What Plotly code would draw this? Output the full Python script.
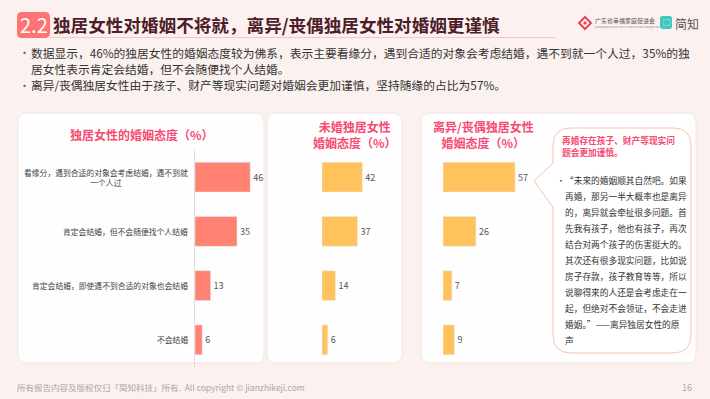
import plotly.graph_objects as go

W, H = 710, 399
FONT = "Noto Sans CJK SC"


def px(x):
    return x / W


def py(y):
    return 1 - y / H


# ---------------- data ----------------
categories = [
    "看缘分，遇到合适的对象会考虑结婚，遇不到就一个人过",
    "肯定会结婚，但不会随便找个人结婚",
    "肯定会结婚，即使遇不到合适的对象也会结婚",
    "不会结婚",
]
category_labels = [
    "看缘分，遇到合适的对象会考虑结婚，遇不到就<br>一个人过",
    "肯定会结婚，但不会随便找个人结婚",
    "肯定会结婚，即使遇不到合适的对象也会结婚",
    "不会结婚",
]
all_women = [46, 35, 13, 6]
unmarried_women = [42, 37, 14, 6]
divorced_women = [57, 26, 7, 9]

title_main = "独居女性对婚姻不将就，离异/丧偶独居女性对婚姻更谨慎"
panel_titles = [
    "独居女性的婚姻态度（%）",
    "未婚独居女性<br>婚姻态度（%）",
    "离异/丧偶独居女性<br>婚姻态度（%）",
]
bullet_lines = [
    "数据显示，46%的独居女性的婚姻态度较为佛系，表示主要看缘分，遇到合适的对象会考虑结婚，遇不到就一个人过，35%的独",
    "居女性表示肯定会结婚，但不会随便找个人结婚。",
    "离异/丧偶独居女性由于孩子、财产等现实问题对婚姻会更加谨慎，坚持随缘的占比为57%。",
]
bubble_head = ["再婚存在孩子、财产等现实问", "题会更加谨慎。"]
bubble_lines = [
    "“未来的婚姻顺其自然吧。如果",
    "再婚，那另一半大概率也是离异",
    "的，离异就会牵扯很多问题。首",
    "先我有孩子，他也有孩子，再次",
    "结合对两个孩子的伤害挺大的。",
    "其次还有很多现实问题，比如说",
    "房子存款，孩子教育等等，所以",
    "说聊得来的人还是会考虑走在一",
    "起，但绝对不会领证，不会走进",
    "婚姻。”——离异独居女性的原",
    "声",
]
footer_text = "所有报告内容及版权仅归「简知科技」所有.  All copyright © jianzhikeji.com"
page_no = "16"

# ---------------- helpers ----------------


def rrect_path(x0, y0, x1, y1, r):
    pts = [
        ("M", (x0 + r, y0)), ("L", (x1 - r, y0)), ("Q", (x1, y0), (x1, y0 + r)),
        ("L", (x1, y1 - r)), ("Q", (x1, y1), (x1 - r, y1)),
        ("L", (x0 + r, y1)), ("Q", (x0, y1), (x0, y1 - r)),
        ("L", (x0, y0 + r)), ("Q", (x0, y0), (x0 + r, y0)),
    ]
    s = ""
    for p in pts:
        s += p[0] + " " + " ".join(f"{px(a):.5f},{py(b):.5f}" for a, b in p[1:]) + " "
    return s + "Z"


def bubble_path(x0, y0, x1, y1, r, ty0, tip, ty1):
    seq = [
        ("M", (x0 + r, y0)), ("L", (x1 - r, y0)), ("Q", (x1, y0), (x1, y0 + r)),
        ("L", (x1, y1 - r)), ("Q", (x1, y1), (x1 - r, y1)),
        ("L", (x0 + r, y1)), ("Q", (x0, y1), (x0, y1 - r)),
        ("L", (x0, ty1)), ("L", tip), ("L", (x0, ty0)),
        ("L", (x0, y0 + r)), ("Q", (x0, y0), (x0 + r, y0)),
    ]
    s = ""
    for p in seq:
        s += p[0] + " " + " ".join(f"{px(a):.5f},{py(b):.5f}" for a, b in p[1:]) + " "
    return s + "Z"


fig = go.Figure()

bar_common = dict(orientation="h", textposition="outside", cliponaxis=False,
                  textfont=dict(size=9, color="#555555", family=FONT),
                  hoverinfo="skip")

fig.add_trace(go.Bar(y=categories, x=all_women, text=all_women,
                     marker=dict(color="#ff8272"), xaxis="x", yaxis="y", **bar_common))
fig.add_trace(go.Bar(y=categories, x=unmarried_women, text=unmarried_women,
                     marker=dict(color="#ffc25c"), xaxis="x2", yaxis="y2", **bar_common))
fig.add_trace(go.Bar(y=categories, x=divorced_women, text=divorced_women,
                     marker=dict(color="#ffc25c"), xaxis="x3", yaxis="y3", **bar_common))

ydom = [py(367), py(150)]
hidden_x = dict(visible=False, showgrid=False, zeroline=False, fixedrange=True)
fig.update_layout(
    width=W, height=H,
    margin=dict(l=0, r=0, t=0, b=0),
    paper_bgcolor="#fbf2ef",
    plot_bgcolor="rgba(0,0,0,0)",
    showlegend=False,
    bargap=0.45,
    font=dict(family=FONT, color="#333333"),
    xaxis=dict(domain=[px(195), px(268)], range=[0, 73 / 1.2], **hidden_x),
    yaxis=dict(domain=ydom, anchor="x", range=[3.5, -0.5], showticklabels=False,
               ticks="", showgrid=False, zeroline=False, showline=True,
               linecolor="#dddddd", linewidth=1),
    xaxis2=dict(domain=[px(322), px(400)], range=[0, 78 / 0.96], anchor="y2", **hidden_x),
    yaxis2=dict(domain=ydom, anchor="x2", range=[3.5, -0.5], visible=False),
    xaxis3=dict(domain=[px(443), px(530)], range=[0, 87 / 1.265], anchor="y3", **hidden_x),
    yaxis3=dict(domain=ydom, anchor="x3", range=[3.5, -0.5], visible=False),
)

shapes = []
# panels
for (x0, x1) in [(18, 264), (267, 402), (421, 696)]:
    shapes.append(dict(type="path", xref="paper", yref="paper", layer="below",
                       path=rrect_path(x0, 113, x1, 363, 9),
                       fillcolor="rgba(255,255,255,0.93)",
                       line=dict(color="rgba(240,222,216,0.7)", width=1)))
# badge
shapes.append(dict(type="path", xref="paper", yref="paper", layer="below",
                   path=rrect_path(17, 12, 50, 38, 5), fillcolor="#ff7472",
                   line=dict(width=0)))
# title underline
shapes.append(dict(type="line", xref="paper", yref="paper", layer="below",
                   x0=px(50), x1=px(555), y0=py(37.5), y1=py(37.5),
                   line=dict(color="#f9c3c9", width=1)))
# logo
shapes.append(dict(type="path", xref="paper", yref="paper",
                   path=f"M {px(585):.5f},{py(17):.5f} L {px(591):.5f},{py(23):.5f} L {px(585):.5f},{py(29):.5f} L {px(579):.5f},{py(23):.5f} Z",
                   fillcolor="rgba(0,0,0,0)", line=dict(color="#e8455a", width=2)))
shapes.append(dict(type="path", xref="paper", yref="paper",
                   path=f"M {px(585):.5f},{py(21):.5f} L {px(587):.5f},{py(23):.5f} L {px(585):.5f},{py(25):.5f} L {px(583):.5f},{py(23):.5f} Z",
                   fillcolor="#e8455a", line=dict(width=0)))
shapes.append(dict(type="line", xref="paper", yref="paper",
                   x0=px(652), x1=px(652), y0=py(16), y1=py(30),
                   line=dict(color="#dddddd", width=1)))
shapes.append(dict(type="path", xref="paper", yref="paper",
                   path=rrect_path(660, 16, 672, 29, 2.5), fillcolor="#3ec9bf",
                   line=dict(width=0)))
# speech bubble
shapes.append(dict(type="path", xref="paper", yref="paper", layer="below",
                   path=bubble_path(553, 128, 691, 353, 18, 163, (534, 181), 207),
                   fillcolor="rgba(255,255,255,0.95)",
                   line=dict(color="#f8c2ad", width=1)))
fig.update_layout(shapes=shapes)

ann = []


def text(x, y, s, size, color="#333333", xanchor="left", bold=False, align="left", yref="paper", yval=None):
    ann.append(dict(x=px(x), y=(py(y) if yval is None else yval), xref="paper", yref=yref,
                    text=(f"<b>{s}</b>" if bold else s), showarrow=False,
                    xanchor=xanchor, yanchor="middle", align=align,
                    font=dict(size=size, color=color, family=FONT)))


# badge & title
text(33.5, 25, "2.2", 20, color="#ffffff", xanchor="center")
text(51, 25, title_main, 17.6, color="#4f1d2a", bold=True)
# logo texts
text(593, 21, "广东省幸福家庭促进会", 6, color="#555555")
text(593, 27, "GUANGDONG HAPPY FAMILY PROMOTION ASSOCIATION", 2.5, color="#888888")
text(666, 22.5, "▢", 7, color="#ffffff", xanchor="center")
text(673, 23, "简知", 12, color="#555555")

# bullets
bullet_y = [52, 68, 85]
for i, (s, yy) in enumerate(zip(bullet_lines, bullet_y)):
    if i != 1:
        text(17, yy, "•", 11, color="#555555")
    text(29, yy, s, 11.75, color="#333333")

# panel titles
text(142, 134, panel_titles[0], 12, color="#f74a72", xanchor="center", bold=True, align="center")
text(355, 134.5, panel_titles[1], 12, color="#f74a72", xanchor="center", bold=True, align="center")
text(483, 134.5, panel_titles[2], 12, color="#f74a72", xanchor="center", bold=True, align="center")

# category labels via the y categories
for cat, lab in zip(categories, category_labels):
    ann.append(dict(x=px(190), y=cat, xref="paper", yref="y", text=lab,
                    showarrow=False, xanchor="right", yanchor="middle", align="center",
                    font=dict(size=7.8, color="#444444", family=FONT)))

# bubble
text(560, 140, bubble_head[0], 8.7, color="#f74a72", bold=True)
text(560, 153, bubble_head[1], 8.7, color="#f74a72", bold=True)
line_y = [181, 196.5, 212.5, 228.5, 244.5, 260.5, 276.5, 292.5, 308.5, 324.5, 340.5]
text(555, 181, "•", 8, color="#333333")
for s, yy in zip(bubble_lines, line_y):
    text(563, yy, s, 8.7, color="#333333")

# footer
text(15, 387, footer_text, 8.5, color="#a8a8a8")
text(694, 387, page_no, 9, color="#a8a8a8", xanchor="right")

fig.update_layout(annotations=ann)
fig.write_html("out.html")
